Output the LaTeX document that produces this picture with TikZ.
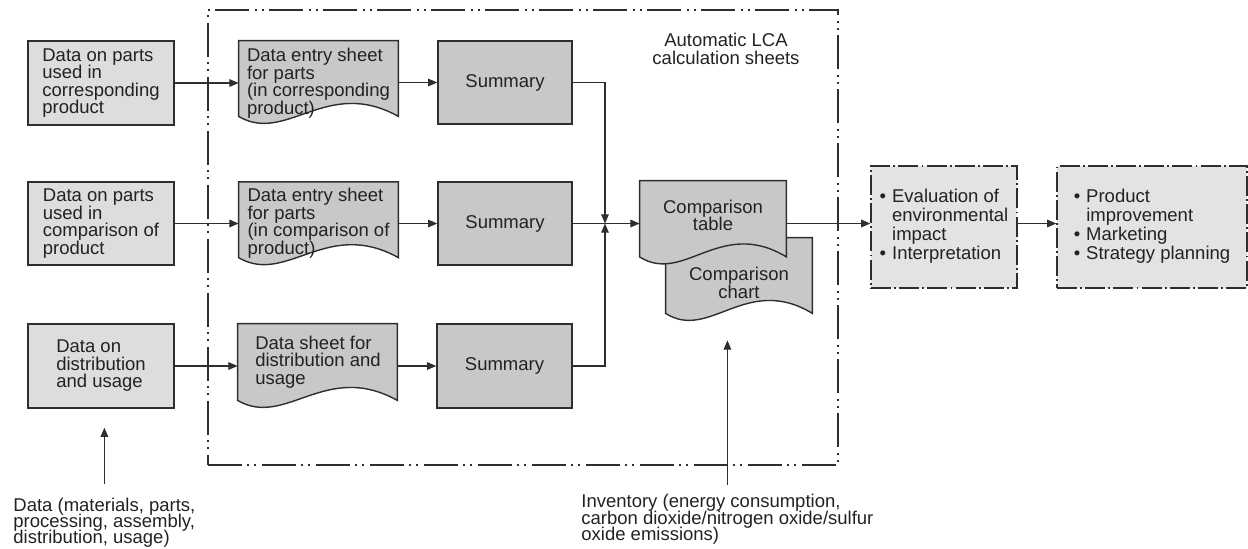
\documentclass[tikz,border=0pt]{standalone}
\usepackage{fontspec}
\setmainfont{Liberation Sans}
\usetikzlibrary{arrows.meta,calc,backgrounds}
\setlength{\lineskiplimit}{-6pt}
\definecolor{lightbox}{HTML}{DDDDDD}
\definecolor{darkbox}{HTML}{C8C8C8}
\definecolor{evalbox}{HTML}{E3E3E3}
\definecolor{edge}{HTML}{2E2E2E}
\definecolor{ink}{HTML}{222222}
\newcommand{\tightlines}{\lineskiplimit=-6pt\relax}
\tikzset{
 basetext/.style={font=\fontsize{9.25}{8.75}\selectfont\tightlines, text=ink, inner sep=0pt},
 inbox/.style={basetext, draw=edge, line width=0.7pt, fill=lightbox, align=left},
 sumbox/.style={basetext, draw=edge, line width=0.7pt, fill=darkbox, align=center},
 sheet/.style={basetext},
 doctext/.style={basetext, align=left},
 docfill/.style={draw=edge, line width=0.7pt, fill=darkbox},
 region/.style={draw=edge, line width=0.6pt, inner sep=0pt,
   dash pattern=on 17pt off 2.5pt on 1pt off 2.5pt on 1pt off 3pt},
 resbox/.style={basetext, draw=edge, line width=0.65pt, fill=evalbox,
   dash pattern=on 10pt off 1.6pt on 0.9pt off 1.6pt, font=\fontsize{9.25}{9}\selectfont\tightlines},
 conn/.style={draw=edge, line width=0.55pt},
 arr/.style={conn, -{Triangle[length=4.6pt,width=3.8pt]}},
}
\newcommand{\docshape}[1]{%
  \path[docfill] (#1.south west)
    .. controls ($(#1.south west)!0.3!(#1.south east)+(0,28)$) and ($(#1.south west)!0.55!(#1.south east)+(0,-40)$) ..
    (#1.south east) -- (#1.north east) -- (#1.north west) -- cycle;}
\begin{document}
\begin{tikzpicture}[x=0.5pt,y=-0.5pt]
\useasboundingbox (0,0) rectangle (1248,548);

% dash-dot region
\node[region, minimum width=315pt, minimum height=227.5pt] (lca) at (523,237.5) {};
\node[basetext, align=center] (lcatitle) at (726,49) {Automatic LCA\\calculation sheets};

% input boxes
\node[inbox, minimum width=73pt, minimum height=42pt] (in1) at (101,83) {Data on parts\\used in\\corresponding\\product};
\node[inbox, minimum width=73pt, minimum height=41.5pt] (in2) at (101,223.5) {Data on parts\\used in\\comparison of\\product};
\node[inbox, minimum width=73pt, minimum height=42pt] (in3) at (101,366) {Data on\\distribution\\and usage};

% document sheets: outline nodes and their texts
\node[sheet, minimum width=79.5pt, minimum height=37.5pt] (doc1) at (318.5,78.5) {};
\node[sheet, minimum width=79.5pt, minimum height=37.5pt] (doc2) at (318.5,219.75) {};
\node[sheet, minimum width=79.5pt, minimum height=38pt] (doc3) at (317.5,362) {};
\node[doctext] (doc1t) at (318.5,83) {Data entry sheet\\for parts\\(in corresponding\\product)};
\node[doctext] (doc2t) at (318.5,223) {Data entry sheet\\for parts\\(in comparison of\\product)};
\node[doctext] (doc3t) at (318,362) {Data sheet for\\distribution and\\usage};

% summaries
\node[sumbox, minimum width=67pt, minimum height=41.5pt] (sum1) at (505,82.5) {Summary};
\node[sumbox, minimum width=67pt, minimum height=41.5pt] (sum2) at (505,223.5) {Summary};
\node[sumbox, minimum width=67.5pt, minimum height=42pt] (sum3) at (504.5,366) {Summary};

% comparison sheets
\node[sheet, minimum width=73pt, minimum height=37.5pt] (cc) at (739,275.5) {};
\node[basetext, align=center] (cctext) at (739,283) {Comparison\\chart};
\node[sheet, minimum width=73pt, minimum height=37.75pt] (ct) at (713,218.75) {};
\node[basetext, align=center] (cttext) at (713,215.5) {Comparison\\table};

% result boxes
\node[resbox, minimum width=73pt, minimum height=61pt] (ev) at (944,227)
 {\raisebox{-1pt}{\begin{tabular}{@{}l@{\hspace{3pt}}l@{}}\textbullet & Evaluation of\\ & environmental\\ & impact\\ \textbullet & Interpretation\end{tabular}}};
\node[resbox, minimum width=95pt, minimum height=61pt] (oc) at (1152,227)
 {\raisebox{-1pt}{\begin{tabular}{@{}l@{\hspace{3pt}}l@{}}\textbullet & Product\\ & improvement\\ \textbullet & Marketing\\ \textbullet & Strategy planning\end{tabular}}};

% bottom labels
\node[basetext, align=left, anchor=north west, font=\fontsize{9.25}{8}\selectfont\tightlines] (dlab) at (13,498) {Data (materials, parts,\\processing, assembly,\\distribution, usage)};
\node[basetext, align=left, anchor=north west, font=\fontsize{9.25}{8.25}\selectfont\tightlines] (ilab) at (581,494) {Inventory (energy consumption,\\carbon dioxide/nitrogen oxide/sulfur\\oxide emissions)};

\begin{scope}[on background layer]
 \docshape{cc}
 \docshape{ct}
 \docshape{doc1}
 \docshape{doc2}
 \docshape{doc3}
\end{scope}

% connectors
\coordinate (j) at (605,223.5);
\draw[arr] (in1.east) -- (in1.east -| doc1.west);
\draw[arr] (in2.east) -- (in2.east -| doc2.west);
\draw[arr] (in3.east) -- (in3.east -| doc3.west);
\draw[arr] (doc1.east |- sum1.west) -- (sum1.west);
\draw[arr] (doc2.east |- sum2.west) -- (sum2.west);
\draw[arr] (doc3.east |- sum3.west) -- (sum3.west);
\draw[arr] (sum1.east) -| (j);
\draw[arr] (sum3.east) -| (j);
\draw[arr] (sum2.east) -- (sum2.east -| ct.west);
\draw[arr] (ct.east |- j) -- (j -| ev.west);
\draw[arr] (ev.east |- j) -- (j -| oc.west);
\draw[arr, shorten <=7pt, shorten >=9.5pt] (dlab.north) -- (dlab.north |- in3.south);
\draw[arr, shorten <=4.5pt, shorten >=13.5pt] (ilab.north) -- (ilab.north |- cc.south);
\end{tikzpicture}
\end{document}
